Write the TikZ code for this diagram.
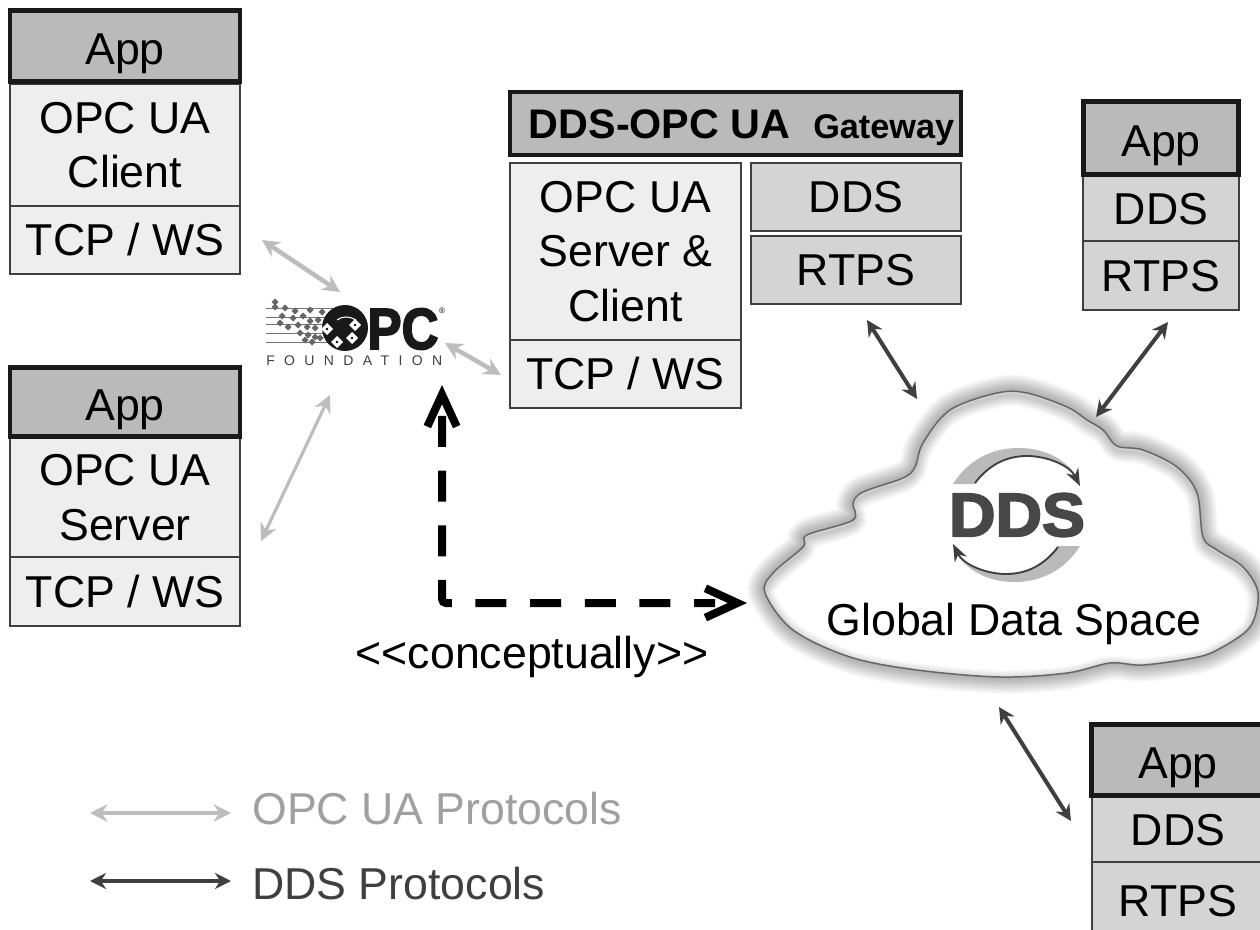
\documentclass[tikz,border=0pt]{standalone}
\usepackage{fontspec}
\setmainfont{Liberation Sans}
\newfontfamily\logofont{Liberation Sans}[BoldFeatures={FakeBold=3}]
\newfontfamily\spacedfont{Liberation Sans}[LetterSpace=67]
\usetikzlibrary{positioning,calc,arrows.meta}
\definecolor{boxlight}{HTML}{EEEEEE}
\definecolor{boxmid}{HTML}{D4D4D4}
\definecolor{boxdark}{HTML}{BABABA}
\definecolor{edgedark}{HTML}{3F3F3F}
\definecolor{protogray}{HTML}{BDBDBD}
\definecolor{legendgray}{HTML}{A0A0A0}
\newcommand{\cloudoutline}{plot[smooth cycle, tension=0.55] coordinates {
    (997,393) (1027,393) (1067,407) (1087,420) (1103,430) (1117,446) (1143,450)
    (1177,467) (1197,493) (1203,537) (1217,550) (1243,567) (1258,593) (1250,627)
    (1217,650) (1193,658) (1143,665) (1110,663) (1067,673) (1000,677) (917,670)
    (850,657) (793,630) (765,593) (773,573) (803,547) (807,535) (853,520) (853,503)
    (863,492) (903,478) (915,467) (923,443) (950,410)}}

\begin{document}
\begin{tikzpicture}[
    x=0.75pt, y=-0.75pt,
    boxsize/.style 2 args={minimum width=#1*0.75pt, minimum height=#2*0.75pt},
    layerbox/.style={draw=edgedark, line width=1.1pt, inner sep=0pt, align=center,
        font=\fontsize{33.5}{41}\selectfont},
    oneline/.style={text height=24pt, text depth=0pt},
    lightbox/.style={layerbox, fill=boxlight},
    midbox/.style={layerbox, oneline, fill=boxmid},
    appbox/.style={layerbox, text height=28pt, text depth=0pt, fill=boxdark, draw=black!90, line width=3.5pt},
    plaintext/.style={inner sep=0pt, font=\fontsize{33.5}{41}\selectfont},
    opcarrow/.style={<->, >={Stealth[length=13pt,width=13pt]}, draw=protogray, line width=3.4pt},
    opcthin/.style={opcarrow, line width=2.4pt},
    ddsarrow/.style={<->, >={Stealth[length=12pt,width=12pt]}, draw=edgedark, line width=3pt},
    conceptarrow/.style={{Straight Barb[length=24pt,width=22pt,line width=6pt]}-{Straight Barb[length=24pt,width=22pt,line width=6pt]},
        line width=6pt, rounded corners=3pt, dash phase=28pt,
        dash pattern=on 23.25pt off 17.75pt on 23.25pt off 17.75pt on 23.25pt off 17.75pt on 23.25pt off 17.75pt
            on 23.25pt off 17.75pt on 23.25pt off 17.75pt on 23.25pt off 17.75pt on 23.25pt off 17.75pt
            on 23.25pt off 17.75pt on 15.75pt off 60pt},
    diamond dot/.style={fill=black!60}
]
    \useasboundingbox (0,0) rectangle (1260,930);
    \fill[white] (0,0) rectangle (1260,930);

    % Cloud with a soft rim
    \foreach \w in {34,32,...,2} {
        \draw[black, opacity=0.02, line width=\w*0.75pt, line join=round] \cloudoutline;
    }
    \fill[white] \cloudoutline;
    \begin{scope}
        \clip \cloudoutline;
        \foreach \w in {22,20,...,2} {
            \draw[black, opacity=0.018, line width=\w*0.75pt, yshift=-3pt] \cloudoutline;
        }
    \end{scope}
    \draw[black!60, line width=1.1pt] \cloudoutline;

    % DDS logo inside the cloud
    \foreach \a in {0,180} {
        \begin{scope}[rotate around={\a:(1016.5,515)}]
            \fill[black!27] (953,484) .. controls (968,460) and (992,448) .. (1018,448)
                .. controls (1040,448) and (1058,455) .. (1072,470)
                .. controls (1058,460) and (1042,455) .. (1027,456)
                .. controls (1005,456) and (988,466) .. (975,484) -- cycle;
            \draw[edgedark, line width=1.4pt, -{Stealth[length=13pt,width=10pt]}] (975,483)
                .. controls (988,466) and (1005,456) .. (1027,456)
                .. controls (1048,456) and (1070,466) .. (1080,486);
        \end{scope}
    }
    \node[inner sep=0pt, text=black!72, xscale=1.05, font=\fontsize{46}{50}\selectfont\logofont\bfseries] (ddslogo) at (1017,515) {DDS};
    \node[plaintext] (globalspace) at (1014,624) {Global Data Space};

    % OPC logo
    \foreach \y in {308,317,324,333,342} {
        \draw[black!55, line width=0.6pt] (266,\y) -- (345,\y);
    }
    \foreach \x/\y in {275/302,275/307,285/308,295/311,310/310,322/312,282/316,293/318,303/316,310/321,318/320,280/323,288/327,298/325,307/327,315/328,300/333,308/335,315/337,305/340,312/342,320/338} {
        \fill[diamond dot] (\x,\y) +(-3.5,0) -- +(0,-3.5) -- +(3.5,0) -- +(0,3.5) -- cycle;
    }
    \fill[black!90] (345,328) circle (23);
    \draw[white, line width=0.8pt] (337,320) .. controls (342,316) and (350,316) .. (356,320);
    \foreach \x/\y in {327/329,337/342,352/338,355/325} {
        \fill[white] (\x,\y) +(-6,0) -- +(0,-6) -- +(6,0) -- +(0,6) -- cycle;
        \fill[black] (\x,\y) circle (1.3);
    }
    \node[inner sep=0pt, text=black!90, xscale=0.88, font=\fontsize{43.5}{46}\selectfont\logofont\bfseries] (opcletters) at (403,329) {PC};
    \node[inner sep=0pt, font=\fontsize{6}{7}\selectfont] (opcmark) at (442,311) {®};
    \node[inner sep=0pt, anchor=west, text=black!75, font=\fontsize{10.5}{12}\selectfont\spacedfont] (opcfoundation) at (266,361) {FOUNDATION};

    % Left stacks
    \node[lightbox, boxsize={230}{122}] (clientua) at (125,145) {OPC UA\\Client};
    \node[lightbox, oneline, boxsize={230}{68}] (clienttcp) at (125,240) {TCP / WS};
    \node[appbox, boxsize={230}{71}] (clientapp) at (125,46) {App};

    \node[lightbox, boxsize={230}{119}] (serverua) at (125,497.5) {OPC UA\\Server};
    \node[lightbox, oneline, boxsize={230}{69}] (servertcp) at (125,591.5) {TCP / WS};
    \node[appbox, boxsize={230}{69}] (serverapp) at (125,402) {App};

    % Gateway
    \node[appbox, text height=22pt, boxsize={451}{63}] (gateway) at (735.5,123.5) {\hspace{9pt}\fontsize{31}{36}\selectfont\bfseries DDS-OPC UA\hspace{17pt}\fontsize{25.7}{36}\selectfont Gateway};
    \node[lightbox, boxsize={231}{177}] (gatewayua) at (625.5,251.5) {OPC UA\\Server \&\\Client};
    \node[lightbox, oneline, boxsize={231}{68}] (gatewaytcp) at (625.5,374) {TCP / WS};
    \node[midbox, boxsize={210}{68}] (gatewaydds) at (856,197) {DDS};
    \node[midbox, boxsize={210}{68}] (gatewayrtps) at (856,270) {RTPS};

    % Right stacks
    \node[midbox, boxsize={156}{65}] (rightdds) at (1161,208.5) {DDS};
    \node[midbox, boxsize={156}{69}] (rightrtps) at (1161,275.5) {RTPS};
    \node[appbox, boxsize={155}{73}] (rightapp) at (1161,138) {App};

    \node[midbox, boxsize={172}{65}] (lowerdds) at (1178,829.5) {DDS};
    \node[midbox, boxsize={172}{76}] (lowerrtps) at (1178,900) {RTPS};
    \node[appbox, boxsize={173}{71}] (lowerapp) at (1178,760) {App};

    % Free ends of the arrows
    \coordinate (clientend) at (262,240);
    \coordinate (clientlogo) at (340,292);
    \coordinate (gatewaylogo) at (445,343);
    \coordinate (gatewayend) at (501,375);
    \coordinate (serverlogo) at (330,395);
    \coordinate (serverend) at (261,541);
    \coordinate (rtpsend) at (867,320);
    \coordinate (cloudtopleft) at (917,399);
    \coordinate (rightend) at (1168,322);
    \coordinate (cloudtopright) at (1096,417);
    \coordinate (cloudbottom) at (999,707);
    \coordinate (lowerend) at (1071,821);
    \coordinate (conceptup) at (442,385);
    \coordinate (conceptright) at (747,603);
    \coordinate (legendopcstart) at (90,813);
    \coordinate (legendopcend) at (231,813);
    \coordinate (legendddsstart) at (90,881);
    \coordinate (legendddsend) at (231,881);

    \draw[opcarrow] (clientend) -- (clientlogo);
    \draw[opcarrow] (gatewaylogo) -- (gatewayend);
    \draw[opcthin] (serverlogo) -- (serverend);
    \draw[ddsarrow] (rtpsend) -- (cloudtopleft);
    \draw[ddsarrow] (rightend) -- (cloudtopright);
    \draw[ddsarrow] (cloudbottom) -- (lowerend);
    \draw[conceptarrow] (conceptup) |- (conceptright);

    \node[plaintext] (conceptlabel) at (532,657) {<{}<conceptually>{}>};

    % Legend
    \draw[opcarrow, line width=2.6pt] (legendopcstart) -- (legendopcend);
    \draw[ddsarrow] (legendddsstart) -- (legendddsend);
    \node[plaintext, anchor=west, text=legendgray] (legendopc) at (252,809) {OPC UA Protocols};
    \node[plaintext, anchor=west, text=edgedark] (legenddds) at (252,884) {DDS Protocols};
\end{tikzpicture}
\end{document}
